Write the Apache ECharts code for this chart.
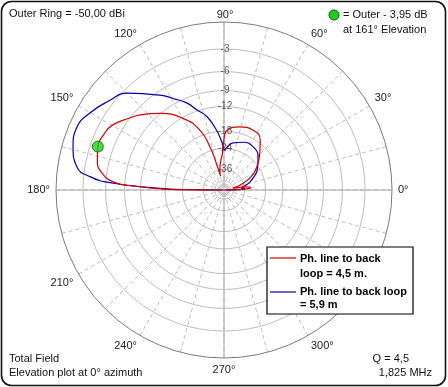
<!DOCTYPE html>
<html><head><meta charset="utf-8">
<script src="https://cdn.jsdelivr.net/npm/echarts@6/dist/echarts.min.js"></script>
<style>html,body{margin:0;padding:0;background:#fff}#c{width:448px;height:387px}</style>
</head><body><div id="c"></div>
<script>
// ---- data (elevation angle in degrees, gain in dB relative to outer ring) ----
const angleTickLabels = [0,30,60,120,150,180,210,240,270,300,330];
const topLabel = '90°';
const ringDb = [-3,-6,-9,-12,-18,-24,-36,-50];
const ringLabels = ['-3','-6','-9','-12','-18','-24','-36'];
const redName = 'Ph. line to back loop = 4,5 m.';
const blueName = 'Ph. line to back loop = 5,9 m';
const redAngles = [0,2,4,6,8,10,12,14,17,25,35,46,54,64,76,87,91,93,96,100,102,104,106,108,112,120,130,138,143,150,155,161,167,172,176,177.5,179,179.5,180];
const redDb     = [-99,-38,-32,-31.5,-35,-45,-50,-44,-39.5,-30.4,-24.6,-20.3,-17.2,-15.9,-16.3,-17.7,-22.6,-26.9,-29.6,-34,-37,-42,-31,-22.5,-16.4,-12.1,-8.9,-6.9,-5.9,-4.5,-4.1,-3.95,-4.4,-5.3,-7.3,-10.8,-17,-24.6,-99];
const blueAngles = [0,2,4,6,9,13,17,24,31,44,56,68,79,85,89,92,97,103,108.6,113,118.8,124,135,142,150,157,164,171,174.3,176.5,178.5,179.5,180];
const blueDb     = [-99,-38,-36,-39,-37.5,-34,-31.4,-28,-25.2,-21.7,-20.1,-20.3,-21.5,-23,-24.5,-22,-17.7,-13.8,-11.8,-9.9,-8.2,-6.6,-3.5,-2.5,-1.44,-0.84,-1.16,-2.06,-3.8,-7.1,-16.6,-26,-99];
const maxAngle = 161, maxDb = -3.95;

// ARRL log scale: radius fraction = 0.89^(-dB/2)
const rOf = db => Math.pow(0.89, -db / 2);
const toPolar = (angs, dbs) => angs.map((a, i) => [rOf(dbs[i]), a]);
const FONT = 'Liberation Sans';

const ringSeries = ringDb.map(db => ({
  type: 'line', coordinateSystem: 'polar', silent: true, showSymbol: false, z: 1,
  data: Array.from({length: 73}, (_, k) => [rOf(db), k * 5]),
  lineStyle: {color: '#bdbdbd', width: 1}
}));

const option = {
  animation: false,
  backgroundColor: '#ffffff',
  polar: {center: [224, 190], radius: 168},
  angleAxis: {
    type: 'value', min: 0, max: 360, interval: 15, startAngle: 0, clockwise: false, z: 1,
    axisLine: {lineStyle: {color: '#7a7a7a', width: 1}},
    axisTick: {show: false},
    axisLabel: {
      margin: 6, color: '#222', fontSize: 11, fontFamily: FONT,
      formatter: v => (angleTickLabels.indexOf(v) >= 0) ? v + '°' : ''
    },
    splitLine: {lineStyle: {color: '#bdbdbd', width: 1, type: [4, 3]}}
  },
  radiusAxis: {type: 'value', min: 0, max: 1, show: false},
  series: [
    ...ringSeries,
    {type: 'line', coordinateSystem: 'polar', silent: true, showSymbol: false, z: 2,
     data: [[1, 0], [0, 0], [1, 180]], lineStyle: {color: '#a8a8a8', width: 1}},
    {type: 'line', coordinateSystem: 'polar', silent: true, showSymbol: false, z: 2,
     data: [[1, 90], [0, 0], [1, 270]], lineStyle: {color: '#a8a8a8', width: 1}},
    {type: 'scatter', coordinateSystem: 'polar', silent: true, symbolSize: 0, z: 3,
     data: ringLabels.map((t, i) => ({value: [rOf(ringDb[i]), 90], name: t})),
     label: {show: true, position: 'inside', offset: [1, 0], formatter: p => p.name,
             color: '#333', fontSize: 10, fontFamily: FONT}},
    {name: redName, type: 'line', coordinateSystem: 'polar', showSymbol: false, smooth: 0.5, z: 5,
     data: toPolar(redAngles, redDb), lineStyle: {color: '#d40000', width: 1.2}},
    {name: blueName, type: 'line', coordinateSystem: 'polar', showSymbol: false, smooth: 0.5, z: 4,
     data: toPolar(blueAngles, blueDb), lineStyle: {color: '#0000a8', width: 1.2}},
    {type: 'scatter', coordinateSystem: 'polar', symbolSize: 11, z: 6,
     data: [[rOf(maxDb), maxAngle]],
     itemStyle: {color: '#19d219', borderColor: '#0b5e0b', borderWidth: 1}}
  ],
  graphic: [
    {type: 'rect', z: 50, shape: {x: 1.5, y: 1.5, width: 444, height: 384, r: 10},
     style: {fill: null, stroke: '#111', lineWidth: 1.6}},
    {type: 'text', z: 50, x: 225, y: 15, style: {text: topLabel, font: '11px ' + FONT, fill: '#222', textAlign: 'center', textVerticalAlign: 'middle'}},
    {type: 'text', z: 50, left: 9, top: 8, style: {text: 'Outer Ring = -50,00 dBi', font: '11px ' + FONT, fill: '#111'}},
    {type: 'circle', z: 50, shape: {cx: 334, cy: 15, r: 5}, style: {fill: '#19d219', stroke: '#0b5e0b', lineWidth: 1}},
    {type: 'text', z: 50, left: 343, top: 9, style: {text: '= Outer - 3,95 dB', font: '11px ' + FONT, fill: '#111'}},
    {type: 'text', z: 50, left: 343, top: 24, style: {text: 'at 161° Elevation', font: '11px ' + FONT, fill: '#111'}},
    {type: 'text', z: 50, left: 9, top: 353, style: {text: 'Total Field', font: '11px ' + FONT, fill: '#111'}},
    {type: 'text', z: 50, left: 9, top: 367, style: {text: 'Elevation plot at 0° azimuth', font: '11px ' + FONT, fill: '#111'}},
    {type: 'text', z: 50, right: 39, top: 353, style: {text: 'Q = 4,5', font: '11px ' + FONT, fill: '#111'}},
    {type: 'text', z: 50, right: 16, top: 367, style: {text: '1,825 MHz', font: '11px ' + FONT, fill: '#111'}},
    {type: 'rect', z: 60, shape: {x: 267, y: 247, width: 146, height: 67}, style: {fill: '#fff', stroke: '#000', lineWidth: 1.2}},
    {type: 'line', z: 61, shape: {x1: 270, y1: 258, x2: 296, y2: 258}, style: {stroke: '#d40000', lineWidth: 1.2}},
    {type: 'text', z: 61, x: 300, y: 251, style: {text: 'Ph. line to back\nloop = 4,5 m.', font: 'bold 11px ' + FONT, fill: '#000', lineHeight: 15}},
    {type: 'line', z: 61, shape: {x1: 270, y1: 292, x2: 296, y2: 292}, style: {stroke: '#0000a8', lineWidth: 1.2}},
    {type: 'text', z: 61, x: 300, y: 285.5, style: {text: 'Ph. line to back loop\n= 5,9 m', font: 'bold 11px ' + FONT, fill: '#000', lineHeight: 13}}
  ]
};
echarts.init(document.getElementById('c'), null, {renderer: 'canvas'}).setOption(option);
</script></body></html>
